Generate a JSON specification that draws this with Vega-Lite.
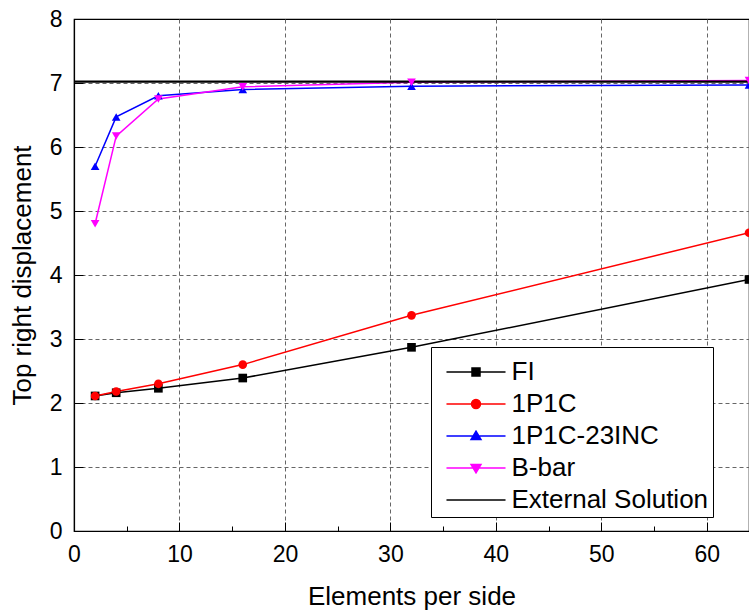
{
  "$schema": "https://vega.github.io/schema/vega-lite/v6.json",
  "width": 675,
  "height": 512,
  "autosize": {"type": "none"},
  "padding": {"left": 74, "top": 19, "right": 0, "bottom": 80},
  "background": "white",
  "config": {
    "font": "Liberation Sans",
    "view": {"stroke": "black", "strokeWidth": 1.2},
    "axis": {
      "domainColor": "black", "domainWidth": 1.2,
      "tickColor": "black", "tickWidth": 1,
      "labelColor": "black", "titleColor": "black",
      "labelFont": "Liberation Sans", "titleFont": "Liberation Sans",
      "labelFontSize": 23, "titleFontSize": 26, "titleFontWeight": "normal",
      "labelFlush": false
    }
  },
  "datasets": {
    "series": [
      {"series": "FI", "x": 2, "y": 2.11},
      {"series": "FI", "x": 4, "y": 2.16},
      {"series": "FI", "x": 8, "y": 2.23},
      {"series": "FI", "x": 16, "y": 2.39},
      {"series": "FI", "x": 32, "y": 2.87},
      {"series": "FI", "x": 64, "y": 3.93},
      {"series": "1P1C", "x": 2, "y": 2.11},
      {"series": "1P1C", "x": 4, "y": 2.18},
      {"series": "1P1C", "x": 8, "y": 2.30},
      {"series": "1P1C", "x": 16, "y": 2.60},
      {"series": "1P1C", "x": 32, "y": 3.37},
      {"series": "1P1C", "x": 64, "y": 4.66},
      {"series": "1P1C-23INC", "x": 2, "y": 5.70},
      {"series": "1P1C-23INC", "x": 4, "y": 6.47},
      {"series": "1P1C-23INC", "x": 8, "y": 6.80},
      {"series": "1P1C-23INC", "x": 16, "y": 6.90},
      {"series": "1P1C-23INC", "x": 32, "y": 6.95},
      {"series": "1P1C-23INC", "x": 64, "y": 6.97},
      {"series": "B-bar", "x": 2, "y": 4.80},
      {"series": "B-bar", "x": 4, "y": 6.17},
      {"series": "B-bar", "x": 8, "y": 6.75},
      {"series": "B-bar", "x": 16, "y": 6.94},
      {"series": "B-bar", "x": 32, "y": 7.01},
      {"series": "B-bar", "x": 64, "y": 7.04}
    ],
    "external": [{"series": "External Solution", "value": 7.02}]
  },
  "layer": [
    {
      "data": {"name": "series"},
      "mark": {"type": "line", "strokeWidth": 1.5},
      "encoding": {
        "x": {
          "field": "x", "type": "quantitative",
          "scale": {"domain": [0, 64], "nice": false, "zero": true},
          "axis": {
            "title": "Elements per side",
            "values": [0, 5, 10, 15, 20, 25, 30, 35, 40, 45, 50, 55, 60],
            "labelExpr": "datum.value % 10 === 0 ? datum.label : ''",
            "tickSize": -9,
            "tickDash": {"condition": {"test": "datum.value % 10 === 0", "value": [20, 0]}, "value": [5, 30]},
            "labelPadding": 21,
            "titlePadding": 17,
            "grid": true,
            "gridColor": "#666666",
            "gridDash": [4, 3],
            "gridOpacity": {"condition": {"test": "datum.value % 10 === 0 && datum.value > 0", "value": 1}, "value": 0}
          }
        },
        "y": {
          "field": "y", "type": "quantitative",
          "scale": {"domain": [0, 8], "nice": false},
          "axis": {
            "title": "Top right displacement",
            "values": [0, 0.5, 1, 1.5, 2, 2.5, 3, 3.5, 4, 4.5, 5, 5.5, 6, 6.5, 7, 7.5, 8],
            "labelExpr": "datum.value % 1 === 0 ? format(datum.value, 'd') : ''",
            "tickSize": -9,
            "tickDash": {"condition": {"test": "datum.value % 1 === 0", "value": [20, 0]}, "value": [5, 30]},
            "labelPadding": 21,
            "titlePadding": 14,
            "grid": true,
            "gridColor": "#666666",
            "gridDash": [4, 3],
            "gridOpacity": {"condition": {"test": "datum.value % 1 === 0 && datum.value > 0 && datum.value < 8", "value": 1}, "value": 0}
          }
        },
        "color": {
          "field": "series", "type": "nominal",
          "scale": {"domain": ["FI", "1P1C", "1P1C-23INC", "B-bar"], "range": ["#000000", "#ff0000", "#0000ff", "#ff00ff"]},
          "legend": null
        }
      }
    },
    {
      "data": {"name": "external"},
      "mark": {"type": "rule", "color": "black", "strokeWidth": 2.2},
      "encoding": {
        "y": {"field": "value", "type": "quantitative"}
      }
    },
    {
      "data": {"name": "series"},
      "mark": {"type": "point", "filled": true, "opacity": 1, "size": 75},
      "encoding": {
        "x": {"field": "x", "type": "quantitative"},
        "y": {"field": "y", "type": "quantitative"},
        "color": {"field": "series", "type": "nominal", "legend": null},
        "shape": {
          "field": "series", "type": "nominal",
          "scale": {"domain": ["FI", "1P1C", "1P1C-23INC", "B-bar"], "range": ["square", "circle", "triangle-up", "triangle-down"]},
          "legend": null
        }
      }
    },
    {
      "data": {"name": "series"},
      "transform": [{"filter": "false"}],
      "mark": {"type": "point", "filled": true, "strokeWidth": 1.5, "opacity": 1},
      "encoding": {
        "x": {"field": "x", "type": "quantitative"},
        "y": {"field": "y", "type": "quantitative"},
        "fill": {
          "field": "series", "type": "nominal",
          "scale": {"domain": ["FI", "1P1C", "1P1C-23INC", "B-bar", "External Solution"], "range": ["#000000", "#ff0000", "#0000ff", "#ff00ff", "#000000"]},
          "legend": {
            "title": " ", "titleFontSize": 4, "titlePadding": 4, "orient": "none", "legendX": 357, "legendY": 328,
            "strokeColor": "black", "fillColor": "white", "padding": 4,
            "labelFont": "Liberation Sans", "labelFontSize": 26, "labelColor": "black", "labelLimit": 400,
            "symbolSize": 256, "symbolStrokeWidth": 1.5, "symbolOpacity": 1, "rowPadding": 6, "labelOffset": 50.5
          }
        },
        "stroke": {
          "field": "series", "type": "nominal",
          "scale": {"domain": ["FI", "1P1C", "1P1C-23INC", "B-bar", "External Solution"], "range": ["#000000", "#ff0000", "#0000ff", "#ff00ff", "#000000"]},
          "legend": {
            "title": " ", "titleFontSize": 4, "titlePadding": 4, "orient": "none", "legendX": 357, "legendY": 328,
            "strokeColor": "black", "fillColor": "white", "padding": 4,
            "labelFont": "Liberation Sans", "labelFontSize": 26, "labelColor": "black", "labelLimit": 400,
            "symbolSize": 256, "symbolStrokeWidth": 1.5, "symbolOpacity": 1, "rowPadding": 6, "labelOffset": 50.5
          }
        },
        "shape": {
          "field": "series", "type": "nominal",
          "scale": {
            "domain": ["FI", "1P1C", "1P1C-23INC", "B-bar", "External Solution"],
            "range": [
              "M-0.19,0H7.19M3,-0.5H4V0.5H3Z",
              "M-0.19,0H7.19M2.94,0A0.56,0.56 0 1,0 4.06,0A0.56,0.56 0 1,0 2.94,0Z",
              "M-0.19,0H7.19M3.5,-0.6L4.12,0.45H2.88Z",
              "M-0.19,0H7.19M3.5,0.6L4.12,-0.45H2.88Z",
              "M-0.19,0H7.19"
            ]
          },
          "legend": {
            "title": " ", "titleFontSize": 4, "titlePadding": 4, "orient": "none", "legendX": 357, "legendY": 328,
            "strokeColor": "black", "fillColor": "white", "padding": 4,
            "labelFont": "Liberation Sans", "labelFontSize": 26, "labelColor": "black", "labelLimit": 400,
            "symbolSize": 256, "symbolStrokeWidth": 1.5, "symbolOpacity": 1, "rowPadding": 6, "labelOffset": 50.5
          }
        }
      }
    }
  ],
  "resolve": {
    "scale": {"shape": "independent", "fill": "independent", "stroke": "independent"},
    "legend": {"shape": "independent", "fill": "independent", "stroke": "independent"}
  }
}
